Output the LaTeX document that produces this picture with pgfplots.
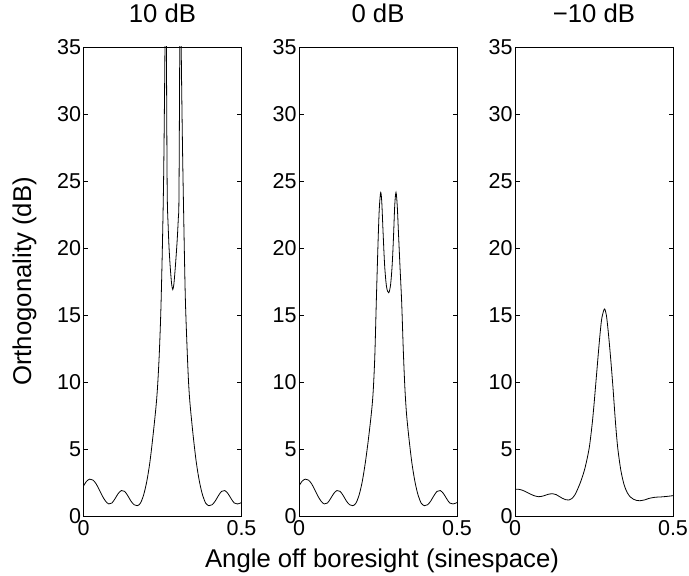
\documentclass[border=0pt]{standalone}
\usepackage{fontspec}
\setmainfont{Liberation Sans}
\usepackage{pgfplots}
\pgfplotsset{compat=1.18}
\newcommand{\tickfont}{\fontsize{21.5bp}{24bp}\selectfont}
\newcommand{\labfont}{\fontsize{25.7bp}{28bp}\selectfont}
\pgfplotsset{myax/.style={
  anchor=south west, width=158bp, height=469bp, scale only axis,
  xmin=0, xmax=0.5, ymin=0, ymax=35,
  xtick={0,0.5}, ytick={0,5,10,15,20,25,30,35},
  tick align=inside, major tick length=4.5bp,
  axis line style={line width=0.7bp},
  every tick/.style={black, line width=0.7bp},
  tick label style={font=\tickfont},
  /pgf/number format/assume math mode=true,
  xticklabel style={yshift=-1bp},
  yticklabel style={xshift=1bp},
  title style={font=\labfont, at={(axis description cs:0.5,1)}, anchor=base, yshift=19bp},
}, curve/.style={black, no marks, line width=0.8bp, smooth}}
\begin{document}
\begin{tikzpicture}
\useasboundingbox (0,0) rectangle (689bp,576bp);
% 10 dB
\begin{axis}[myax, at={(83.5bp,60bp)}, title={10 dB},
  ylabel={Orthogonality (dB)},
  ylabel style={font=\labfont, at={(axis description cs:-0.332,0.5)}, anchor=base, rotate=0}]
\addplot[curve] coordinates {
(0.000,2.24)(0.010,2.60)(0.020,2.75)(0.030,2.68)(0.040,2.40)(0.050,1.95)(0.060,1.48)(0.070,1.10)(0.080,0.90)(0.090,0.97)
(0.100,1.30)(0.110,1.68)(0.120,1.90)(0.130,1.84)(0.140,1.52)(0.150,1.12)(0.160,0.84)(0.170,0.77)(0.180,0.95)(0.190,1.55)
(0.200,2.55)(0.210,4.00)(0.220,6.0)(0.230,8.3)(0.235,9.9)(0.240,12.2)(0.245,15.5)(0.250,20.5)(0.254,26.0)(0.258,35.5)
(0.2605,45)(0.263,32)(0.265,24)(0.268,21.6)(0.271,19.9)(0.275,18.4)(0.279,17.3)(0.2825,16.9)(0.286,17.3)(0.290,18.4)
(0.294,19.7)(0.297,20.8)(0.300,22.2)(0.302,23.6)(0.304,32)(0.3065,45)(0.309,35.5)(0.313,28)(0.317,22.5)(0.322,16.5)
(0.327,13.0)(0.332,10.2)(0.337,8.4)(0.347,6.0)(0.357,4.0)(0.367,2.55)(0.377,1.55)(0.387,0.95)(0.397,0.77)(0.407,0.84)
(0.417,1.12)(0.427,1.52)(0.437,1.84)(0.447,1.90)(0.457,1.68)(0.467,1.30)(0.477,0.97)(0.487,0.90)(0.497,0.97)(0.500,1.00)
};
\end{axis}
% 0 dB
\begin{axis}[myax, at={(299bp,60bp)}, title={0 dB},
  xlabel={Angle off boresight (sinespace)},
  xlabel style={font=\labfont, at={(axis description cs:0.5,0)}, anchor=base, yshift=-51bp, xshift=4bp}]
\addplot[curve] coordinates {
(0.000,2.24)(0.010,2.60)(0.020,2.75)(0.030,2.68)(0.040,2.40)(0.050,1.95)(0.060,1.48)(0.070,1.10)(0.080,0.90)(0.090,0.97)
(0.100,1.30)(0.110,1.68)(0.120,1.90)(0.130,1.84)(0.140,1.52)(0.150,1.12)(0.160,0.84)(0.170,0.77)(0.180,0.95)(0.190,1.55)
(0.200,2.55)(0.210,4.00)(0.220,5.8)(0.230,7.9)(0.235,9.4)(0.240,12.0)(0.245,16.3)(0.250,20.3)(0.254,22.9)(0.2585,24.15)
(0.262,23.4)(0.266,21.2)(0.271,18.7)(0.277,17.1)(0.284,16.66)(0.290,17.3)(0.295,18.8)(0.299,20.8)(0.303,23.2)(0.307,24.15)
(0.311,23.1)(0.315,21.0)(0.320,18.4)(0.325,15.9)(0.330,12.4)(0.335,9.6)(0.340,7.7)(0.347,6.0)(0.357,4.0)(0.367,2.55)
(0.377,1.55)(0.387,0.95)(0.397,0.77)(0.407,0.84)(0.417,1.12)(0.427,1.52)(0.437,1.84)(0.447,1.90)(0.457,1.68)(0.467,1.30)
(0.477,0.97)(0.487,0.90)(0.497,0.97)(0.500,1.00)
};
\end{axis}
% -10 dB
\begin{axis}[myax, at={(515bp,60bp)}, title={−10 dB}]
\addplot[curve] coordinates {
(0.000,2.00)(0.010,2.00)(0.020,1.95)(0.030,1.86)(0.040,1.74)(0.050,1.62)(0.060,1.52)(0.075,1.44)(0.090,1.50)(0.105,1.62)
(0.119,1.66)(0.130,1.60)(0.140,1.46)(0.150,1.32)(0.160,1.22)(0.170,1.19)(0.180,1.30)(0.190,1.60)(0.200,2.10)(0.210,2.70)
(0.220,3.45)(0.228,4.25)(0.235,5.1)(0.240,6.0)(0.245,7.05)(0.250,8.3)(0.255,9.7)(0.260,11.1)(0.265,12.5)(0.270,13.8)(0.275,14.8)
(0.283,15.45)(0.289,15.0)(0.294,14.0)(0.300,12.5)(0.305,11.1)(0.310,9.6)(0.316,7.6)(0.321,6.1)(0.326,4.9)(0.335,3.4)
(0.345,2.35)(0.355,1.75)(0.365,1.42)(0.375,1.25)(0.385,1.16)(0.395,1.14)(0.410,1.20)(0.425,1.32)(0.444,1.40)(0.460,1.42)
(0.475,1.45)(0.491,1.49)(0.500,1.52)
};
\end{axis}
\end{tikzpicture}
\end{document}
